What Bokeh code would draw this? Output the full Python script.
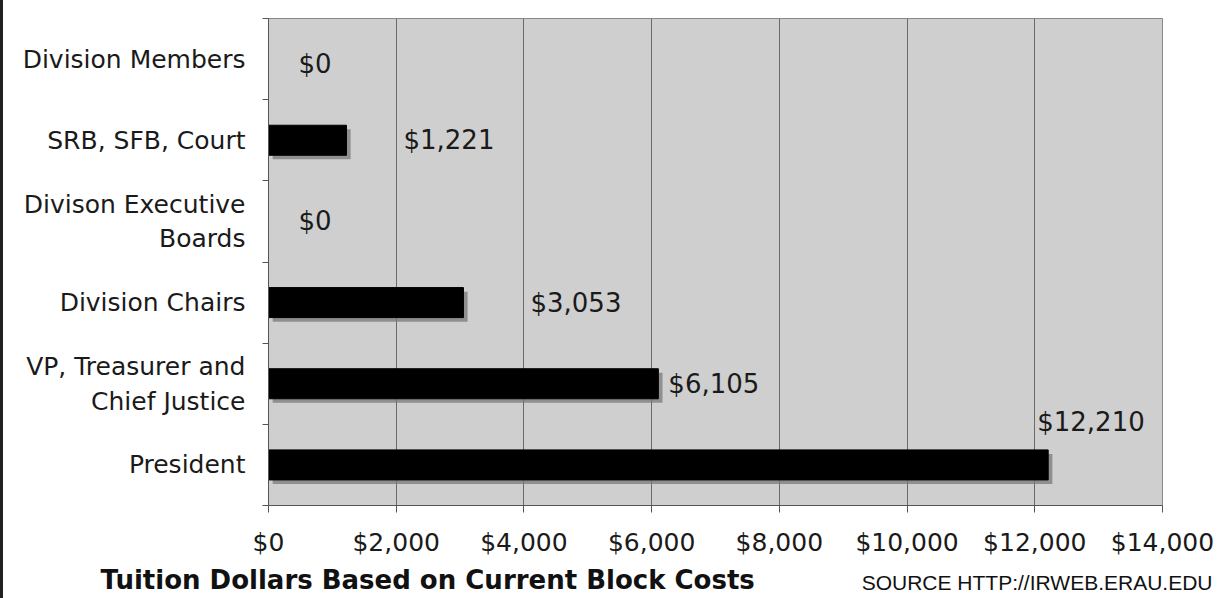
from bokeh.plotting import figure
from bokeh.models import (Range1d, FixedTicker, NumeralTickFormatter, ColumnDataSource, Title)
from bokeh.transform import dodge
from bokeh.embed import file_html
from bokeh.resources import INLINE
from bokeh.core.properties import value

# ---- data (bottom to top) ----
categories = ["President", "VP, Treasurer and\nChief Justice", "Division Chairs",
              "Divison Executive\nBoards", "SRB, SFB, Court", "Division Members"]
amounts = [12210, 6105, 3053, 0, 1221, 0]
value_labels = ["$12,210", "$6,105", "$3,053", "$0", "$1,221", "$0"]
x_ticks = [0, 2000, 4000, 6000, 8000, 10000, 12000, 14000]
title_text = "Tuition Dollars Based on Current Block Costs"
source_text = "SOURCE HTTP://IRWEB.ERAU.EDU"

# label placement offsets (screen px) - styling only
label_dx = [-11, 10, 67, 30, 57, 30]
label_dy = [-43, 0, 0, 0, 0, 5]

FONT = "DejaVu Sans"
pos = list(range(len(categories)))
src = ColumnDataSource(dict(y=pos, v=amounts, lab=value_labels, dx=label_dx, dy=label_dy))

BORDER = 3
W, H = 1221 - BORDER, 598
ML, MR, MT, MB = 268 - BORDER, 59, 18, 93

p = figure(width=W, height=H, output_backend="svg", toolbar_location=None,
           x_range=Range1d(0, 14000), y_range=Range1d(-0.5, len(categories) - 0.5),
           min_border_left=ML, min_border_right=MR, min_border_top=MT, min_border_bottom=MB)

p.background_fill_color = "#cfcfcf"
p.border_fill_color = "white"
p.outline_line_color = "#888888"
p.outline_line_width = 1

# shadow then bars
p.hbar(y=dodge("y", -0.05, range=p.y_range), right=dodge("v", 65, range=p.x_range),
       left=65, height=0.37, source=src,
       fill_color="#7a7a7a", fill_alpha=0.75, line_color=None)
p.hbar(y="y", right="v", left=0, height=0.37, source=src,
       fill_color="black", line_color="black")

p.text(x="v", y="y", text="lab", x_offset="dx", y_offset="dy", source=src,
       text_font=value(FONT), text_font_size="26px", text_color="#1a1a1a",
       text_baseline="middle", text_align="left")

# x axis
xa = p.xaxis[0]
xa.ticker = FixedTicker(ticks=x_ticks)
xa.formatter = NumeralTickFormatter(format="$0,0")
xa.major_label_text_font = FONT
xa.major_label_text_font_size = "25px"
xa.major_label_text_color = "#1a1a1a"
xa.major_label_standoff = 15
xa.axis_line_color = "#555555"
xa.major_tick_line_color = "#555555"
xa.major_tick_out = 7
xa.major_tick_in = 0
xa.minor_tick_line_color = None

# y axis
ya = p.yaxis[0]
bounds = [i - 0.5 for i in range(len(categories) + 1)]
ya.ticker = FixedTicker(ticks=pos, minor_ticks=bounds)
ya.major_label_overrides = {i: c for i, c in enumerate(categories)}
ya.major_label_text_font = FONT
ya.major_label_text_font_size = "25px"
ya.major_label_text_color = "#1a1a1a"
ya.major_label_text_line_height = 1.2
ya.major_label_standoff = 17
ya.major_tick_line_color = None
ya.minor_tick_line_color = "#555555"
ya.minor_tick_out = 6
ya.minor_tick_in = 0
ya.axis_line_color = "#555555"

p.xgrid.ticker = FixedTicker(ticks=x_ticks)
p.xgrid.grid_line_color = "#6a6a6a"
p.ygrid.grid_line_color = None

# bottom texts: main title and source share one row (source pulled up with negative standoff)
t1 = Title(text=title_text, align="left", offset=100 - 268, standoff=6,
           vertical_align="bottom",
           text_font=FONT, text_font_size="26px", text_font_style="bold",
           text_color="#111111")
t2 = Title(text=source_text, align="right", offset=-(1212 - 1162), standoff=-54,
           vertical_align="top",
           text_font="Liberation Sans", text_font_size="21px", text_font_style="normal",
           text_color="#111111")
p.add_layout(t1, "below")
p.add_layout(t2, "below")

html = file_html(p, INLINE)
css = ("<style>html,body{margin:0 !important;padding:0;overflow:hidden}"
       "body{border-left:%dpx solid #222222 !important;box-sizing:border-box}</style>" % BORDER)
html = html.replace("</head>", css + "</head>", 1)
open("out.html", "w").write(html)
